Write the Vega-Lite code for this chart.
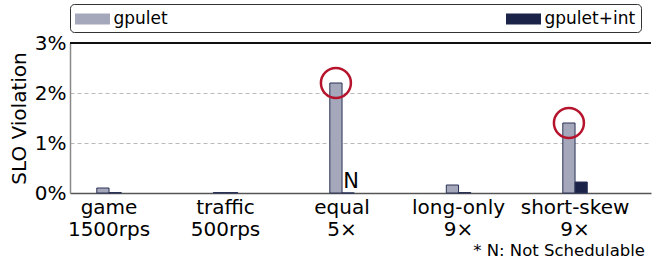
{
  "$schema": "https://vega.github.io/schema/vega-lite/v6.json",
  "width": 581,
  "height": 150,
  "autosize": {"type": "none"},
  "padding": {"left": 70, "top": 43, "right": 1, "bottom": 71},
  "background": "white",
  "config": {
    "font": "DejaVu Sans",
    "view": {"stroke": null}
  },
  "title": {
    "text": "* N: Not Schedulable",
    "orient": "bottom",
    "anchor": "end",
    "frame": "group",
    "fontSize": 16.5,
    "fontWeight": "normal",
    "color": "#000",
    "offset": 4,
    "dx": -6
  },
  "data": {
    "values": [
      {"workload": "game 1500rps", "series": "gpulet", "value": 0.001, "note": ""},
      {"workload": "game 1500rps", "series": "gpulet+int", "value": 0.0001, "note": ""},
      {"workload": "traffic 500rps", "series": "gpulet", "value": 0.0001, "note": ""},
      {"workload": "traffic 500rps", "series": "gpulet+int", "value": 0.0001, "note": ""},
      {"workload": "equal 5×", "series": "gpulet", "value": 0.022, "note": ""},
      {"workload": "equal 5×", "series": "gpulet+int", "value": 0, "note": "N"},
      {"workload": "long-only 9×", "series": "gpulet", "value": 0.0016, "note": ""},
      {"workload": "long-only 9×", "series": "gpulet+int", "value": 0.0001, "note": ""},
      {"workload": "short-skew 9×", "series": "gpulet", "value": 0.014, "note": ""},
      {"workload": "short-skew 9×", "series": "gpulet+int", "value": 0.0022, "note": ""}
    ]
  },
  "encoding": {
    "x": {
      "field": "workload",
      "type": "nominal",
      "sort": null,
      "scale": {"paddingInner": 0.79, "paddingOuter": 0.3885, "align": 0.296},
      "axis": {
        "title": null,
        "labelAngle": 0,
        "labelFontSize": 20,
        "labelColor": "#000",
        "labelExpr": "split(datum.label, ' ')",
        "labelLineHeight": 22,
        "labelPadding": 4,
        "labelBaseline": "top",
        "ticks": false,
        "domainColor": "#555",
        "domainWidth": 1.5
      }
    },
    "xOffset": {
      "field": "series",
      "type": "nominal",
      "scale": {"domain": ["gpulet", "gpulet+int"], "paddingInner": 0, "paddingOuter": 0}
    },
    "y": {
      "field": "value",
      "type": "quantitative",
      "scale": {"domain": [0, 0.03]},
      "axis": {
        "title": "SLO Violation",
        "titleFontSize": 20,
        "titleFontWeight": "normal",
        "titleColor": "#000",
        "titlePadding": 5,
        "format": "~%",
        "values": [0, 0.01, 0.02, 0.03],
        "labelFontSize": 20,
        "labelColor": "#000",
        "labelPadding": 4,
        "ticks": false,
        "domainColor": "#888",
        "domainWidth": 1.5,
        "grid": true,
        "gridDash": [4, 3],
        "gridColor": "#bbb",
        "gridWidth": 1
      }
    }
  },
  "layer": [
    {
      "mark": {"type": "bar", "stroke": "#2a3256", "strokeWidth": 1},
      "encoding": {
        "color": {
          "field": "series",
          "type": "nominal",
          "scale": {"domain": ["gpulet", "gpulet+int"], "range": ["#a5a7ba", "#1b2448"]},
          "legend": {
            "title": null,
            "orient": "none",
            "legendX": 0,
            "legendY": -39,
            "direction": "horizontal",
            "symbolType": "M-1.75,-0.55H1.75V0.55H-1.75Z",
            "symbolSize": 400,
            "symbolOffset": 7.5,
            "symbolStrokeWidth": 0,
            "labelOffset": 11,
            "labelFontSize": 17,
            "labelColor": "#000",
            "columnPadding": 338,
            "padding": 5,
            "strokeColor": "#333",
            "fillColor": "white",
            "cornerRadius": 4
          }
        }
      }
    },
    {
      "mark": {"type": "rule", "color": "#111", "strokeWidth": 1.2},
      "encoding": {"y": {"datum": 0.03}, "x": null, "xOffset": null}
    },
    {
      "transform": [{"filter": "datum.note != ''"}],
      "mark": {"type": "text", "baseline": "bottom", "align": "center", "fontSize": 21, "dx": 3, "dy": -1, "color": "#000"},
      "encoding": {"text": {"field": "note"}}
    },
    {
      "transform": [{"filter": "datum.series == 'gpulet' && datum.value > 0.01"}],
      "mark": {"type": "point", "shape": "circle", "filled": false, "size": 900, "stroke": "#b5142c", "strokeWidth": 2.5, "opacity": 1},
      "encoding": {}
    }
  ]
}
